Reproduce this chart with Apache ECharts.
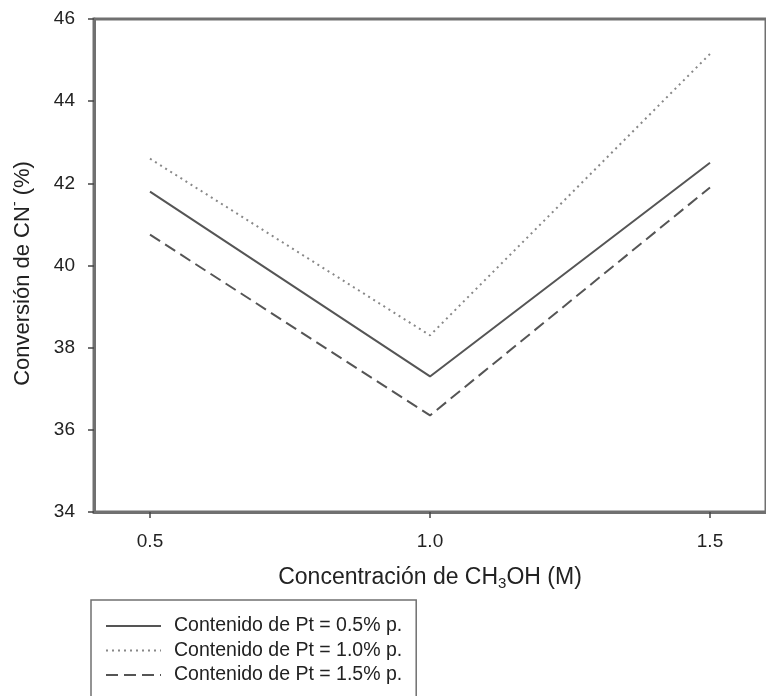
<!DOCTYPE html>
<html>
<head>
<meta charset="utf-8">
<script src="https://cdn.jsdelivr.net/npm/echarts@6/dist/echarts.min.js"></script>
<style>
  html, body { margin: 0; padding: 0; background: #fff; }
  #main { width: 766px; height: 696px; }
</style>
</head>
<body>
<div id="main"></div>
<script>
// CH3OH concentration (M)
const concentracion = [0.5, 1.0, 1.5];
const xTicks = [0.5, 1.0, 1.5];
const seriesNames = [
  "Contenido de Pt = 0.5% p.",
  "Contenido de Pt = 1.0% p.",
  "Contenido de Pt = 1.5% p.",
];
// CN- conversion (%)
const pt05 = [41.8, 37.3, 42.5];
const pt10 = [42.6, 38.3, 45.15];
const pt15 = [40.75, 36.35, 41.9];

const axisColor = "#707070";
const font = "Liberation Sans";

const chart = echarts.init(document.getElementById("main"));

const mkSeries = (name, values, color, type, width) => ({
  name,
  type: "line",
  symbol: "none",
  data: concentracion.map((x, i) => [x, values[i]]),
  lineStyle: { color, width, type },
  itemStyle: { color },
});

chart.setOption({
  animation: false,
  textStyle: { fontFamily: font },
  grid: {
    left: 92,
    top: 19,
    width: 686,
    height: 493,
    show: true,
    borderColor: axisColor,
    borderWidth: 3,
  },
  xAxis: {
    type: "value",
    min: 0.4,
    max: 1.6,
    splitLine: { show: false },
    axisLine: { lineStyle: { color: axisColor, width: 3 } },
    axisTick: { length: 6, customValues: xTicks, lineStyle: { color: "#444", width: 1.5 } },
    axisLabel: {
      color: "#222",
      fontSize: 19,
      margin: 20,
      fontFamily: font,
      customValues: xTicks,
      formatter: v => v.toFixed(1),
    },
    name: "{a|Concentración de CH}{sub|3}{a|OH (M)}",
    nameLocation: "middle",
    nameGap: 53,
    nameTextStyle: {
      rich: {
        a: { fontSize: 23, color: "#222", fontFamily: font, lineHeight: 26 },
        sub: { fontSize: 15, color: "#222", fontFamily: font, lineHeight: 20, verticalAlign: "bottom" },
      },
    },
  },
  yAxis: {
    type: "value",
    min: 34,
    max: 46,
    interval: 2,
    splitLine: { show: false },
    axisLine: { show: true, lineStyle: { color: axisColor, width: 3 } },
    axisTick: { show: true, length: 6, lineStyle: { color: "#444", width: 1.5 } },
    axisLabel: { color: "#222", fontSize: 19, margin: 19, fontFamily: font },
    name: "{a|Conversión de CN}{sup|-}{a| (%)}",
    nameLocation: "middle",
    nameGap: 57,
    nameTextStyle: {
      padding: [0, 16, 0, 0],
      rich: {
        a: { fontSize: 22, color: "#222", fontFamily: font, lineHeight: 25 },
        sup: { fontSize: 14, color: "#222", fontFamily: font, lineHeight: 29, verticalAlign: "top" },
      },
    },
  },
  legend: {
    orient: "vertical",
    left: 91,
    top: 600,
    height: 72,
    padding: [16, 14, 14, 14],
    itemWidth: 55,
    itemHeight: 14,
    itemGap: 4.5,
    borderColor: axisColor,
    borderWidth: 1.5,
    borderRadius: 0,
    itemStyle: { opacity: 0 },
    textStyle: { color: "#222", fontSize: 19.5, lineHeight: 20, fontFamily: font, padding: [0, 0, 0, 8] },
    data: seriesNames,
  },
  series: [
    mkSeries(seriesNames[0], pt05, "#555", "solid", 2),
    mkSeries(seriesNames[1], pt10, "#888", [2, 4], 2),
    mkSeries(seriesNames[2], pt15, "#555", [12, 6], 2),
  ],
});
</script>
</body>
</html>
